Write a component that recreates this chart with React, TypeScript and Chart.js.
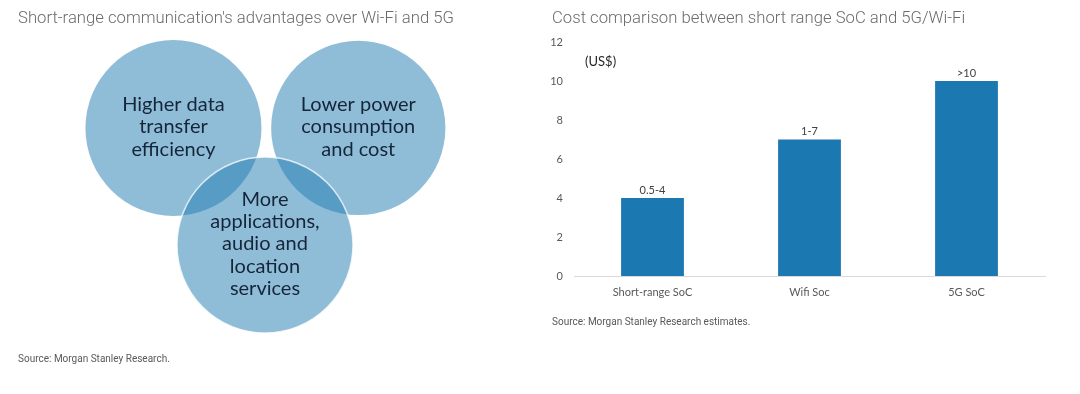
import React, { useEffect, useRef } from "react";
import { Chart, registerables } from "chart.js";

Chart.register(...registerables);

// ---- Left panel: Venn diagram (units: circle radius = 1) ----
const vennLabels: string[][] = [
  ["Higher data", "transfer", "efficiency"],
  ["Lower power", "consumption", "and cost"],
  ["More", "applications,", "audio and", "location", "services"],
];
const vennX = [-1.04, 1.06, 0];
const vennY = [1.33, 1.33, 0];
const vennR = [1, 0.99, 1];

// ---- Right panel: cost comparison ----
const categories = ["Short-range SoC", "Wifi Soc", "5G SoC"];
const costValues = [4, 7, 10];
const costLabels = ["0.5-4", "1-7", ">10"];
const yMin = 0;
const yMax = 12;
const yStep = 2;

const leftTitle = "Short-range communication's advantages over Wi-Fi and 5G";
const rightTitle = "Cost comparison between short range SoC and 5G/Wi-Fi";
const leftSource = "Source: Morgan Stanley Research.";
const rightSource = "Source: Morgan Stanley Research estimates.";
const unitLabel = "(US$)";

const vennTextPlugin = {
  id: "vennText",
  afterDatasetsDraw(chart: any) {
    const ctx = chart.ctx;
    const meta = chart.getDatasetMeta(0);
    ctx.save();
    ctx.fillStyle = "#16263a";
    ctx.font = "20px Lato";
    ctx.textAlign = "center";
    ctx.textBaseline = "middle";
    const lh = 22.3;
    meta.data.forEach((el: any, i: number) => {
      const lines = vennLabels[i];
      const start = el.y - ((lines.length - 1) * lh) / 2;
      lines.forEach((t, j) => ctx.fillText(t, el.x, start + j * lh - 1));
    });
    ctx.restore();
  },
};

const barLabelPlugin = {
  id: "barLabels",
  afterDatasetsDraw(chart: any) {
    const ctx = chart.ctx;
    const meta = chart.getDatasetMeta(0);
    ctx.save();
    ctx.fillStyle = "#404040";
    ctx.font = "11px Lato";
    ctx.textAlign = "center";
    ctx.textBaseline = "middle";
    meta.data.forEach((el: any, i: number) => {
      ctx.fillText(costLabels[i], el.x, el.y - 8);
    });
    ctx.font = "13px Lato";
    ctx.fillStyle = "#262626";
    ctx.textAlign = "left";
    ctx.fillText(unitLabel, chart.chartArea.left + 11, chart.scales.y.getPixelForValue(11));
    ctx.restore();
  },
};

export default function App() {
  const leftRef = useRef<HTMLCanvasElement>(null);
  const rightRef = useRef<HTMLCanvasElement>(null);

  useEffect(() => {
    const left = new Chart(leftRef.current!, {
      type: "scatter",
      data: {
        datasets: [
          {
            data: vennX.map((x, i) => ({ x, y: vennY[i], s: vennR[i] })) as any,
            pointBackgroundColor: "rgba(31,123,177,0.5)",
            pointBorderColor: ["rgba(0,0,0,0)", "rgba(0,0,0,0)", "rgba(255,255,255,0.75)"],
            pointBorderWidth: [0, 0, 1.5],
            pointRadius: (c: any) => {
              const xs = c.chart.scales.x;
              const r = c.raw ? c.raw.s : 1;
              return xs.getPixelForValue(r) - xs.getPixelForValue(0);
            },
            showLine: false,
          } as any,
        ],
      },
      options: {
        animation: false,
        responsive: false,
        events: [],
        layout: { padding: 0 },
        plugins: { legend: { display: false }, tooltip: { enabled: false } },
        scales: {
          x: { display: false, min: -3.011, max: 3.125 },
          y: { display: false, min: -1.693, max: 2.784 },
        },
      },
      plugins: [vennTextPlugin],
    });

    const right = new Chart(rightRef.current!, {
      type: "bar",
      data: {
        labels: categories,
        datasets: [
          {
            data: costValues,
            backgroundColor: "#1b78b0",
            barPercentage: 0.4,
            categoryPercentage: 1,
          },
        ],
      },
      options: {
        animation: false,
        responsive: false,
        events: [],
        layout: { padding: { top: 42, right: 35, bottom: 88, left: 0 } },
        plugins: { legend: { display: false }, tooltip: { enabled: false } },
        scales: {
          x: {
            grid: { display: false, drawTicks: false },
            border: { display: true, color: "#d9d9d9", width: 1 },
            ticks: { padding: 10, color: "#595959", font: { family: "Lato", size: 11 } },
            afterFit: (s: any) => {
              s.height = 30;
            },
          },
          y: {
            min: yMin,
            max: yMax,
            grid: { display: false, drawTicks: false },
            border: { display: false },
            ticks: { stepSize: yStep, padding: 11, color: "#595959", font: { family: "Lato", size: 11 } },
            afterFit: (s: any) => {
              s.width = 34;
            },
          },
        },
      },
      plugins: [barLabelPlugin],
    });

    return () => {
      left.destroy();
      right.destroy();
    };
  }, []);

  const titleStyle: React.CSSProperties = {
    position: "absolute",
    top: 8,
    fontFamily: "Roboto",
    fontWeight: 300,
    fontSize: 16.7,
    color: "#6b6b6b",
    whiteSpace: "nowrap",
    lineHeight: "20px",
  };
  const sourceStyle: React.CSSProperties = {
    position: "absolute",
    fontFamily: "Roboto",
    fontSize: 10,
    color: "#595959",
    whiteSpace: "nowrap",
    lineHeight: "12px",
  };

  return (
    <div style={{ position: "absolute", left: 0, top: 0, width: 1080, height: 394, background: "#fff", overflow: "hidden" }}>
      <canvas ref={leftRef} width={540} height={394} style={{ position: "absolute", left: 0, top: 0 }} />
      <canvas ref={rightRef} width={540} height={394} style={{ position: "absolute", left: 540, top: 0 }} />
      <div style={{ ...titleStyle, left: 18 }}>{leftTitle}</div>
      <div style={{ ...titleStyle, left: 552 }}>{rightTitle}</div>
      <div style={{ ...sourceStyle, left: 18, top: 353 }}>{leftSource}</div>
      <div style={{ ...sourceStyle, left: 552, top: 316 }}>{rightSource}</div>
    </div>
  );
}
